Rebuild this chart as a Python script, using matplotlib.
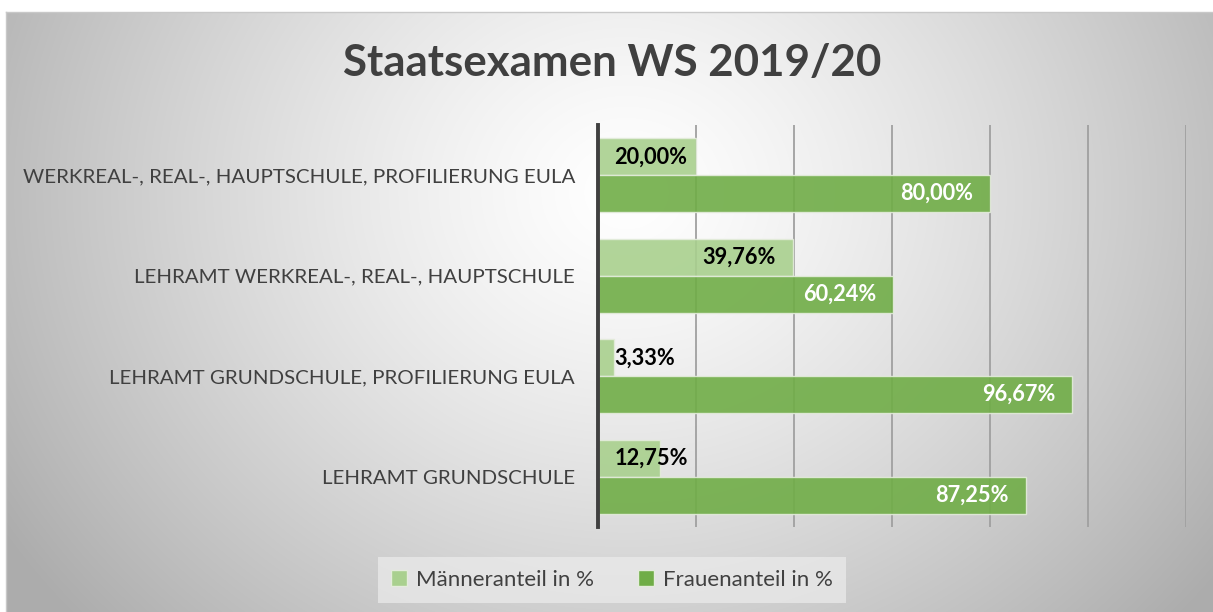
import numpy as np
import matplotlib
matplotlib.use("Agg")
import matplotlib.pyplot as plt
from matplotlib.patches import Patch

plt.rcParams['font.family'] = ['Lato', 'DejaVu Sans']

# data, bottom to top as drawn
categories = [
    "LEHRAMT GRUNDSCHULE",
    "LEHRAMT GRUNDSCHULE, PROFILIERUNG EULA",
    "LEHRAMT WERKREAL-, REAL-, HAUPTSCHULE",
    "WERKREAL-, REAL-, HAUPTSCHULE, PROFILIERUNG EULA",
]
maenner = [12.75, 3.33, 39.76, 20.00]
frauen = [87.25, 96.67, 60.24, 80.00]
series_names = ["Männeranteil in %", "Frauenanteil in %"]

light = "#a9d08e"
dark = "#70ad47"
text_col = "#404040"

W, H = 1213, 612
fig = plt.figure(figsize=(W / 100, H / 100), dpi=100)
fig.patch.set_facecolor("white")

# radial gradient background
bg = fig.add_axes([6 / W, 0, 1 - 6 / W, 1 - 12 / H], zorder=-5)
yy, xx = np.mgrid[0:600, 0:1207]
r = np.sqrt(((xx - 620) / 640.0) ** 2 + ((yy - 180) / 560.0) ** 2)
shade = 1 - 0.27 * np.clip(r, 0, 1.15) ** 1.3
bg.imshow(np.dstack([shade] * 3), aspect="auto", extent=[0, 1, 0, 1])
bg.set_xticks([])
bg.set_yticks([])
for s in ["bottom", "right"]:
    bg.spines[s].set_visible(False)
for s in ["top", "left"]:
    bg.spines[s].set_color("#c8c8c8")
    bg.spines[s].set_linewidth(1)

ax = fig.add_axes([598 / W, 1 - 527 / H, (1186 - 598) / W, (527 - 125) / H])
ax.patch.set_visible(False)

y = np.arange(len(categories))
h = 0.366
ax.barh(y + h / 2, maenner, height=h, color=light, alpha=0.9,
        edgecolor="#e4ecdc", linewidth=1, zorder=3, label=series_names[0])
ax.barh(y - h / 2, frauen, height=h, color=dark, alpha=0.9,
        edgecolor="#e4ecdc", linewidth=1, zorder=3, label=series_names[1])

ax.set_xlim(0, 120)
ax.set_ylim(-0.5, len(categories) - 0.5)
ax.set_xticks([20, 40, 60, 80, 100, 120])
ax.set_xticklabels([])
ax.tick_params(axis="x", length=0)
ax.grid(axis="x", color="#a0a0a0", linewidth=1.3, zorder=1)
ax.set_yticks(y)
ax.set_yticklabels(categories, fontsize=14.75, color=text_col)
ax.tick_params(axis="y", length=0, pad=16.5)
for s in ["top", "right", "bottom"]:
    ax.spines[s].set_visible(False)
ax.spines["left"].set_color("#404040")
ax.spines["left"].set_linewidth(2.8)
ax.spines["left"].set_zorder(4)

def fmt(v):
    return f"{v:.2f}%".replace(".", ",")

label_w = 15
for yi, v in zip(y, maenner):
    if v - 3.4 - label_w < 3.3:
        ax.text(3.3, yi + h / 2, fmt(v), ha="left", va="center",
                fontsize=15.7, fontweight="bold", color="black", zorder=5)
    else:
        ax.text(v - 3.4, yi + h / 2, fmt(v), ha="right", va="center",
                fontsize=15.7, fontweight="bold", color="black", zorder=5)
for yi, v in zip(y, frauen):
    ax.text(v - 3.4, yi - h / 2, fmt(v), ha="right", va="center",
            fontsize=15.7, fontweight="bold", color="white", zorder=5)

fig.text(612 / W, 1 - 63 / H, "Staatsexamen WS 2019/20", ha="center",
         va="center", fontsize=31.6, fontweight="bold", color=text_col)

handles = [Patch(facecolor=light, edgecolor="#e4ecdc"),
           Patch(facecolor=dark, edgecolor="#e4ecdc")]
leg = fig.legend(handles, series_names, loc="center",
                 bbox_to_anchor=(612 / W, 1 - 580 / H), ncol=2,
                 fontsize=16, frameon=True, fancybox=False,
                 facecolor="#ececec", edgecolor="none", framealpha=0.7,
                 handlelength=0.7, handleheight=0.7, handletextpad=0.4,
                 columnspacing=2.0, borderpad=0.6, borderaxespad=0)
leg._legend_box.sep = 0
for t in leg.get_texts():
    t.set_color(text_col)

fig.savefig("out.png", dpi=100)
